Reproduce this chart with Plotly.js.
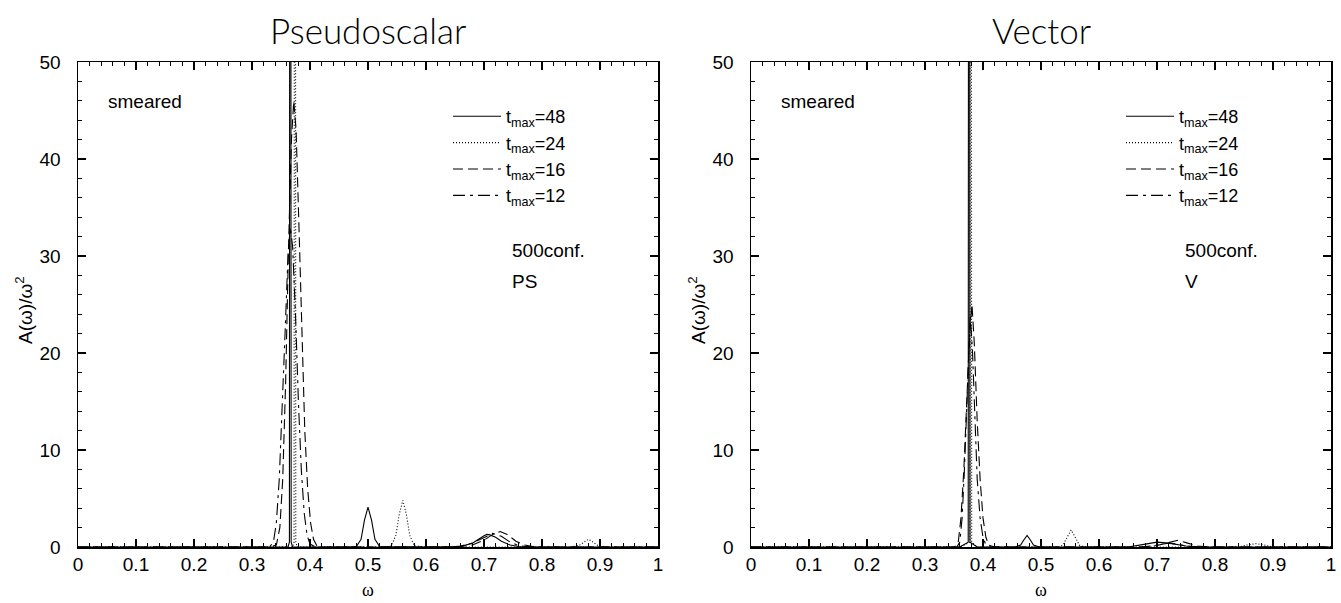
<!DOCTYPE html>
<html>
<head>
<meta charset="utf-8">
<script src="https://cdn.plot.ly/plotly-3.0.1.min.js"></script>
<style>html,body{margin:0;padding:0;background:#fff;}#chart{width:1341px;height:603px;}</style>
</head>
<body>
<div id="chart"></div>
<script>
// ---- Data ----
var seriesNames = ["t<sub>max</sub>=48", "t<sub>max</sub>=24", "t<sub>max</sub>=16", "t<sub>max</sub>=12"];
var panelTitles = ["Pseudoscalar", "Vector"];
var xTickVals = [0, 0.1, 0.2, 0.3, 0.4, 0.5, 0.6, 0.7, 0.8, 0.9, 1];
var xTickText = ["0", "0.1", "0.2", "0.3", "0.4", "0.5", "0.6", "0.7", "0.8", "0.9", "1"];
var yTickVals = [0, 10, 20, 30, 40, 50];

// Pseudoscalar, t_max = 48 (solid)
var ps48_w = [0, 0.30, 0.362, 0.3645, 0.366, 0.3675, 0.370, 0.45, 0.48, 0.488, 0.494, 0.50, 0.506, 0.512, 0.52, 0.60, 0.66, 0.68, 0.69, 0.70, 0.705, 0.71, 0.72, 0.73, 0.745, 0.76, 0.80, 1.0];
var ps48_a = [0, 0, 0, 0.5, 200, 0.5, 0, 0, 0.05, 0.8, 2.8, 4.1, 2.8, 0.8, 0.05, 0, 0.05, 0.4, 0.8, 1.15, 1.3, 1.25, 1.0, 0.6, 0.2, 0.05, 0, 0];
// Pseudoscalar, t_max = 24 (dotted)
var ps24_w = [0, 0.30, 0.370, 0.3725, 0.374, 0.3755, 0.378, 0.53, 0.54, 0.548, 0.554, 0.56, 0.566, 0.572, 0.58, 0.60, 0.85, 0.865, 0.873, 0.88, 0.887, 0.895, 0.91, 1.0];
var ps24_a = [0, 0, 0, 0.5, 200, 0.5, 0, 0, 0.1, 1.2, 3.4, 4.8, 3.4, 1.2, 0.1, 0, 0, 0.2, 0.55, 0.8, 0.55, 0.2, 0, 0];
// Pseudoscalar, t_max = 16 (dashed)
var ps16_w = [0, 0.33, 0.342, 0.348, 0.353, 0.358, 0.363, 0.368, 0.372, 0.376, 0.381, 0.386, 0.391, 0.396, 0.401, 0.406, 0.412, 0.42, 0.65, 0.68, 0.70, 0.715, 0.728, 0.74, 0.755, 0.77, 0.79, 1.0];
var ps16_a = [0, 0, 0.2, 2, 7, 17, 31, 42, 46, 43, 33, 21, 12, 6, 2.5, 0.8, 0.1, 0, 0, 0.2, 0.7, 1.3, 1.6, 1.3, 0.6, 0.2, 0, 0];
// Pseudoscalar, t_max = 12 (dash-dot)
var ps12_w = [0, 0.33, 0.337, 0.342, 0.347, 0.352, 0.357, 0.362, 0.366, 0.370, 0.375, 0.380, 0.385, 0.390, 0.395, 0.40, 0.41, 0.64, 0.66, 0.68, 0.70, 0.715, 0.73, 0.745, 0.76, 0.78, 1.0];
var ps12_a = [0, 0, 0.5, 2.5, 7, 14, 22, 30, 33, 31, 24, 15, 8, 3.5, 1.2, 0.3, 0, 0, 0.1, 0.4, 1.0, 1.4, 1.1, 0.5, 0.15, 0, 0];

// Vector, t_max = 48 (solid)
var v48_w = [0, 0.36, 0.3745, 0.376, 0.3775, 0.39, 0.455, 0.465, 0.47, 0.476, 0.482, 0.487, 0.497, 0.60, 0.65, 0.68, 0.70, 0.72, 0.75, 0.78, 1.0];
var v48_a = [0, 0, 0.5, 200, 0.5, 0, 0, 0.2, 0.7, 1.2, 0.7, 0.2, 0, 0, 0, 0.3, 0.5, 0.4, 0.1, 0, 0];
// Vector, t_max = 24 (dotted)
var v24_w = [0, 0.36, 0.3775, 0.379, 0.3805, 0.39, 0.53, 0.538, 0.545, 0.552, 0.559, 0.566, 0.575, 0.60, 0.84, 0.855, 0.87, 0.885, 0.90, 1.0];
var v24_a = [0, 0, 0.5, 200, 0.5, 0, 0, 0.2, 1.0, 1.75, 1.0, 0.2, 0, 0, 0, 0.2, 0.35, 0.2, 0, 0];
// Vector, t_max = 16 (dashed)
var v16_w = [0, 0.35, 0.357, 0.362, 0.367, 0.372, 0.377, 0.381, 0.385, 0.390, 0.395, 0.400, 0.405, 0.410, 0.42, 0.68, 0.70, 0.72, 0.736, 0.75, 0.77, 0.79, 1.0];
var v16_a = [0, 0, 0.3, 3, 8, 15, 22, 25, 21, 13, 7, 3, 1, 0.2, 0, 0, 0.15, 0.45, 0.7, 0.45, 0.1, 0, 0];
// Vector, t_max = 12 (dash-dot)
var v12_w = [0, 0.355, 0.360, 0.364, 0.368, 0.372, 0.375, 0.378, 0.382, 0.386, 0.390, 0.395, 0.400, 0.405, 0.41, 0.67, 0.69, 0.71, 0.72, 0.735, 0.75, 0.77, 1.0];
var v12_a = [0, 0, 0.5, 3, 8, 15, 21, 24, 20, 13, 7, 3, 1, 0.2, 0, 0, 0.1, 0.3, 0.4, 0.3, 0.1, 0, 0];

// ---- Styles ----
var dashes = ["solid", "1px,2px", "10px,5px", "12px,5px,3px,5px"];

function mk(w, a, i, xa, ya, lg) {
  return {
    x: w, y: a, type: "scatter", mode: "lines",
    name: seriesNames[i], xaxis: xa, yaxis: ya, legend: lg, showlegend: true,
    line: {color: "#000", width: 1.1, dash: dashes[i], shape: "linear"},
    hoverinfo: "x+y"
  };
}

var traces = [
  mk(ps48_w, ps48_a, 0, "x", "y", "legend"),
  mk(ps24_w, ps24_a, 1, "x", "y", "legend"),
  mk(ps16_w, ps16_a, 2, "x", "y", "legend"),
  mk(ps12_w, ps12_a, 3, "x", "y", "legend"),
  mk(v48_w, v48_a, 0, "x2", "y2", "legend2"),
  mk(v24_w, v24_a, 1, "x2", "y2", "legend2"),
  mk(v16_w, v16_a, 2, "x2", "y2", "legend2"),
  mk(v12_w, v12_a, 3, "x2", "y2", "legend2")
];

var W = 1341, H = 603;
var tickFont = {family: "Liberation Sans, Arial, sans-serif", size: 19, color: "#000"};

function xAxis(dom, anchor) {
  return {
    domain: dom, anchor: anchor, range: [0, 1], showgrid: false, zeroline: false,
    showline: true, linecolor: "#000", linewidth: 1.5, mirror: "allticks",
    ticks: "inside", ticklen: 8, tickwidth: 1.2, tickcolor: "#000",
    tickmode: "array", tickvals: xTickVals, ticktext: xTickText,
    tickfont: tickFont, ticklabelstandoff: 0,
    minor: {dtick: 0.02, tick0: 0, ticks: "inside", ticklen: 4, tickwidth: 1, tickcolor: "#000", showgrid: false},
    fixedrange: true
  };
}
function yAxis(dom, anchor) {
  return {
    domain: dom, anchor: anchor, range: [0, 50], showgrid: false, zeroline: false,
    showline: true, linecolor: "#000", linewidth: 1.5, mirror: "allticks",
    ticks: "inside", ticklen: 8, tickwidth: 1.2, tickcolor: "#000",
    tickmode: "array", tickvals: yTickVals,
    tickfont: tickFont, ticklabelstandoff: 12,
    minor: {dtick: 2, tick0: 0, ticks: "inside", ticklen: 4, tickwidth: 1, tickcolor: "#000", showgrid: false},
    fixedrange: true
  };
}

var xd1 = [78 / W, 658 / W], xd2 = [751 / W, 1331 / W];
var yd = [(H - 547) / H, (H - 62) / H];

var annFont = {family: "Liberation Sans, Arial, sans-serif", size: 19, color: "#000"};
var annotations = [];
[["x", "y", xd1, "PS"], ["x2", "y2", xd2, "V"]].forEach(function (p, k) {
  var cx = (p[2][0] + p[2][1]) / 2;
  annotations.push({xref: "paper", yref: "paper", x: cx, y: 1 - 30 / H, text: panelTitles[k], showarrow: false,
    xanchor: "center", yanchor: "middle", font: {family: "Lato, Liberation Sans, sans-serif", size: 35, weight: 300, color: "#000"}});
  annotations.push({xref: "paper", yref: "paper", x: cx, y: 1 - 590 / H, text: "ω", showarrow: false,
    xanchor: "center", yanchor: "middle", font: {family: "Liberation Serif, serif", size: 18, color: "#000"}});
  annotations.push({xref: "paper", yref: "paper", x: p[2][0] - 54 / W, y: 1 - 310 / H, text: "A(ω)/ω<sup>2</sup>", showarrow: false,
    textangle: -90, xanchor: "center", yanchor: "middle", font: {family: "Liberation Sans, Arial, sans-serif", size: 19, color: "#000"}});
  annotations.push({xref: p[0], yref: p[1], x: 0.048, y: 45.9, text: "smeared", showarrow: false,
    xanchor: "left", yanchor: "middle", font: annFont});
  annotations.push({xref: p[0], yref: p[1], x: 0.745, y: 30.6, text: "500conf.", showarrow: false,
    xanchor: "left", yanchor: "middle", font: annFont});
  annotations.push({xref: p[0], yref: p[1], x: 0.745, y: 27.4, text: p[3], showarrow: false,
    xanchor: "left", yanchor: "middle", font: annFont});
});

var legendBase = {
  xanchor: "left", yanchor: "top", y: 1 - 98 / H,
  bgcolor: "rgba(0,0,0,0)", borderwidth: 0, itemwidth: 48,
  font: {family: "Liberation Sans, Arial, sans-serif", size: 18, color: "#000"},
  tracegroupgap: 0, itemclick: false, itemdoubleclick: false
};

var layout = {
  width: W, height: H,
  margin: {l: 0, r: 0, t: 0, b: 0},
  paper_bgcolor: "#fff", plot_bgcolor: "#fff",
  showlegend: true,
  xaxis: xAxis(xd1, "y"), yaxis: yAxis(yd, "x"),
  xaxis2: xAxis(xd2, "y2"), yaxis2: yAxis(yd, "x2"),
  legend: Object.assign({}, legendBase, {x: 448 / W}),
  legend2: Object.assign({}, legendBase, {x: (448 + 673) / W}),
  annotations: annotations
};

Plotly.newPlot("chart", traces, layout, {displayModeBar: false, staticPlot: true});
</script>
</body>
</html>
